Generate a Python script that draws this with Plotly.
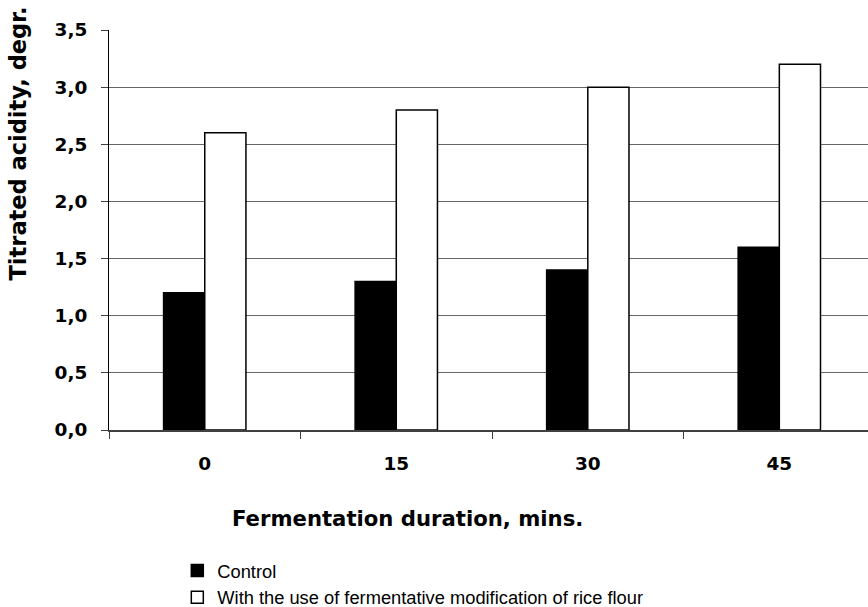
import plotly.graph_objects as go

categories = ["0", "15", "30", "45"]
control = [1.2, 1.3, 1.4, 1.6]
rice = [2.6, 2.8, 3.0, 3.2]
series_names = ["Control", "With the use of fermentative modification of rice flour"]
y_ticks = [0, 0.5, 1.0, 1.5, 2.0, 2.5, 3.0, 3.5]
x_title = "Fermentation duration, mins."
y_title = "Titrated acidity, degr."

BOLD = "DejaVu Sans, Liberation Sans, Arial, sans-serif"
REG = "Liberation Sans, Arial, sans-serif"

fig = go.Figure()
fig.add_trace(go.Bar(x=categories, y=control, name=series_names[0],
                     marker=dict(color="black", line=dict(color="black", width=1.5))))
fig.add_trace(go.Bar(x=categories, y=rice, name=series_names[1],
                     marker=dict(color="white", line=dict(color="black", width=1.5))))

fig.update_layout(
    width=868, height=607,
    margin=dict(l=109, r=0, t=30, b=177, autoexpand=False),
    paper_bgcolor="white", plot_bgcolor="white",
    barmode="group", bargap=0.57, bargroupgap=0,
    separators=", ",
    font=dict(family=REG, color="black"),
    showlegend=True,
    legend=dict(x=0.09, y=-0.305, xanchor="left", yanchor="top",
                font=dict(size=18.3, family=REG, color="black"), itemwidth=30,
                tracegroupgap=0, bgcolor="rgba(0,0,0,0)"),
)
fig.update_xaxes(
    type="category", range=[-0.5, 3.463],
    tickson="boundaries", ticks="outside", ticklen=7, tickcolor="#404040",
    showline=True, linecolor="#404040", linewidth=1.5,
    showgrid=False, zeroline=False, ticklabelstandoff=16,
    tickfont=dict(size=18.5, family=BOLD, weight="bold", color="black"),
)
fig.update_yaxes(
    range=[0, 3.5], tickvals=y_ticks, tickformat=".1f",
    ticks="outside", ticklen=7, tickcolor="#404040",
    showline=True, linecolor="black", linewidth=1,
    showgrid=True, gridcolor="#666666", gridwidth=1,
    zeroline=False, ticklabelstandoff=10,
    tickfont=dict(size=18.5, family=BOLD, weight="bold", color="black"),
)
fig.add_annotation(text="<b>" + x_title + "</b>",
                   xref="paper", yref="paper", x=0.393, y=-0.22,
                   xanchor="center", yanchor="middle", showarrow=False,
                   font=dict(size=21.2, family=BOLD, color="black"))
fig.add_annotation(text="<b>" + y_title + "</b>", textangle=-90,
                   xref="paper", yref="paper", x=-0.12, y=0.716,
                   xanchor="center", yanchor="middle", showarrow=False,
                   font=dict(size=22.5, family=BOLD, color="black"))

fig.write_html("out.html", config={"displayModeBar": False},
               post_script="document.body.style.margin='0';document.body.style.overflow='hidden';")
